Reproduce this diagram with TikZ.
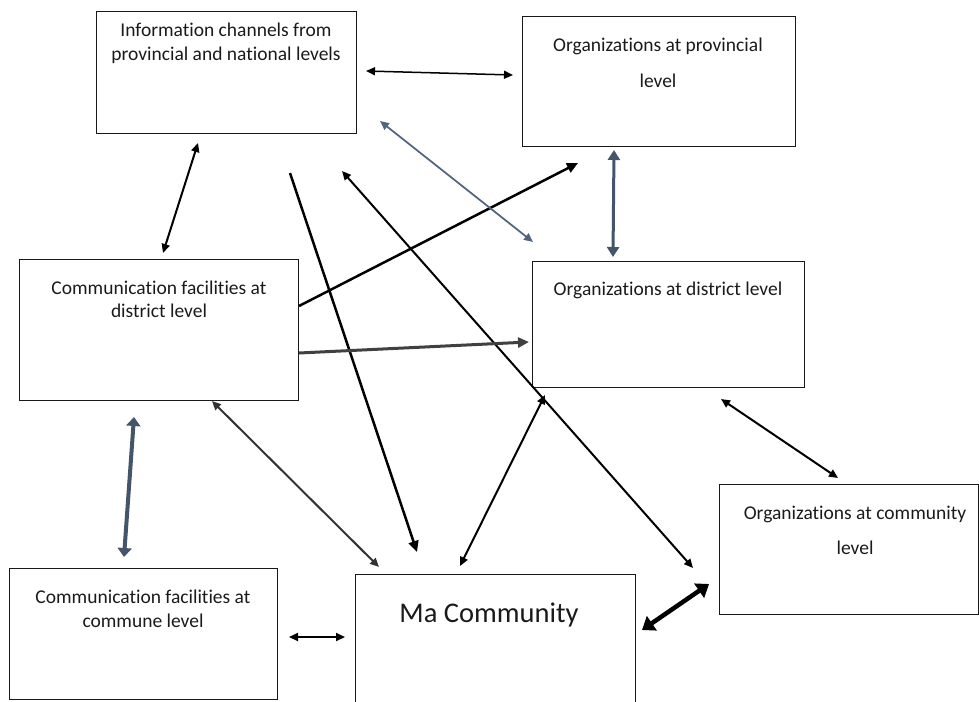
\documentclass[tikz,border=0pt]{standalone}
\usepackage{fontspec}
\setmainfont{Carlito}[Ligatures=NoCommon]
\usetikzlibrary{arrows.meta}
\definecolor{bluegray}{HTML}{44546A}
\definecolor{bluegrayl}{HTML}{52647E}
\definecolor{darkg}{HTML}{404040}
\definecolor{darkh}{HTML}{333333}
\definecolor{txtc}{HTML}{1A1A1A}
\begin{document}
\begin{tikzpicture}[x=1pt,y=-1pt,
  box/.style={draw=black!90, line width=1.2pt, rectangle, inner sep=0pt, anchor=north west},
  lbl/.style={anchor=base, inner sep=0pt, text=txtc, font=\fontsize{19.5}{23}\selectfont},
  biglbl/.style={anchor=base, inner sep=0pt, text=txtc, font=\fontsize{28.5}{34}\selectfont},
  conn/.style={line width=2pt, black},
  twohead/.style={{Triangle[length=9pt,width=8pt]}-{Triangle[length=9pt,width=8pt]}},
  onehead/.style={-{Triangle[length=11pt,width=10pt]}},
  fathead/.style={{Triangle[length=9pt,width=14pt]}-{Triangle[length=9pt,width=14pt]}},
  midhead/.style={{Triangle[length=10pt,width=12pt]}-{Triangle[length=10pt,width=12pt]}},
  bighead/.style={{Triangle[length=12pt,width=17pt]}-{Triangle[length=12pt,width=17pt]}}
]
\useasboundingbox (0,0) rectangle (979,701);
\clip (0,0) rectangle (979,701);

% boxes
\node[box, minimum width=260pt, minimum height=122pt] (info) at (96,11) {};
\node[box, minimum width=273pt, minimum height=130pt] (prov) at (522,16) {};
\node[box, minimum width=279pt, minimum height=141pt] (cdist) at (19,259) {};
\node[box, minimum width=272pt, minimum height=126pt] (odist) at (532,261) {};
\node[box, minimum width=259pt, minimum height=130pt] (ocomm) at (719,484) {};
\node[box, minimum width=268pt, minimum height=131pt] (commune) at (9,568) {};
\node[box, minimum width=280pt, minimum height=140pt] (ma) at (355,574) {};

% texts
\node[lbl] (infoA) at (226,37) {Information channels from};
\node[lbl] (infoB) at (226,60) {provincial and national levels};
\node[lbl] (provA) at (658,52) {Organizations at provincial};
\node[lbl] (provB) at (658,88) {level};
\node[lbl] (cdistA) at (159,294) {Communication facilities at};
\node[lbl] (cdistB) at (159,317) {district level};
\node[lbl] (odistA) at (668,295) {Organizations at district level};
\node[lbl] (ocommA) at (855,519) {Organizations at community};
\node[lbl] (ocommB) at (855,554) {level};
\node[lbl] (communeA) at (143,603) {Communication facilities at};
\node[lbl] (communeB) at (143,627) {commune level};
\node[biglbl] (maA) at (489,622) {Ma Community};

% connector end points
\coordinate (a1s) at (366,71);  \coordinate (a1e) at (513,75);
\coordinate (a2s) at (198,143); \coordinate (a2e) at (163,253);
\coordinate (a3s) at (290,173); \coordinate (a3e) at (417,552);
\coordinate (a4s) at (342,171); \coordinate (a4e) at (693,568);
\coordinate (a5s) at (299,306); \coordinate (a5e) at (578,163);
\coordinate (a6s) at (380,121); \coordinate (a6e) at (533,242);
\coordinate (a7s) at (614,150); \coordinate (a7e) at (613,257);
\coordinate (a8s) at (299,353); \coordinate (a8e) at (529,342);
\coordinate (a9s) at (212,401); \coordinate (a9e) at (379,567);
\coordinate (a10s) at (134,417); \coordinate (a10e) at (124,557);
\coordinate (a11s) at (545,395); \coordinate (a11e) at (460,566);
\coordinate (a12s) at (721,399); \coordinate (a12e) at (838,478);
\coordinate (a13s) at (289,637); \coordinate (a13e) at (345,637);
\coordinate (a14s) at (642,630); \coordinate (a14e) at (709,584);

% connectors
\draw[conn, line width=1.5pt, twohead] (a1s) -- (a1e);
\draw[conn, twohead] (a2s) -- (a2e);
\draw[conn, line width=2.5pt, onehead] (a3s) -- (a3e);
\draw[conn, twohead] (a4s) -- (a4e);
\draw[conn, line width=2.5pt, onehead] (a5s) -- (a5e);
\draw[conn, line width=1.75pt, bluegrayl, twohead] (a6s) -- (a6e);
\draw[conn, line width=3pt, bluegray, midhead] (a7s) -- (a7e);
\draw[conn, line width=3pt, darkg, onehead] (a8s) -- (a8e);
\draw[conn, darkh, twohead] (a9s) -- (a9e);
\draw[conn, line width=4pt, bluegray, fathead] (a10s) -- (a10e);
\draw[conn, twohead] (a11s) -- (a11e);
\draw[conn, twohead] (a12s) -- (a12e);
\draw[conn, twohead] (a13s) -- (a13e);
\draw[conn, line width=4.5pt, bighead] (a14s) -- (a14e);
\end{tikzpicture}
\end{document}
